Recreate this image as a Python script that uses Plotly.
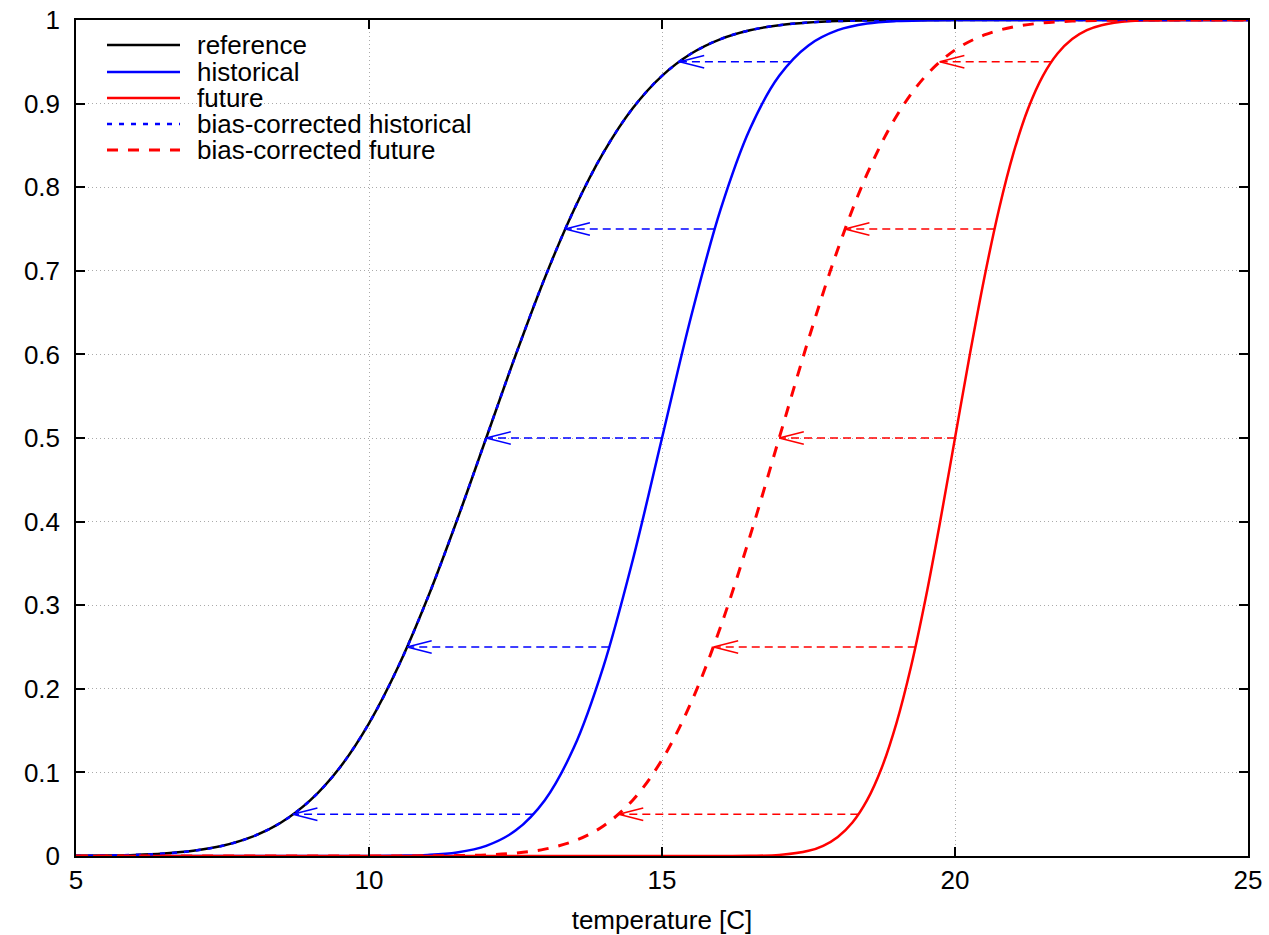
import plotly.graph_objects as go

# ---------------- data ----------------
ref_x = [5, 5.5, 6, 6.5, 7, 7.5, 8, 8.5, 9, 9.5, 10, 10.5, 11, 11.5, 12, 12.5, 13, 13.5,
         14, 14.5, 15, 15.5, 16, 16.5, 17, 17.5, 18, 18.5, 19, 20, 25]
ref_y = [0.0002, 0.0006, 0.0013, 0.0030, 0.0062, 0.0122, 0.0228, 0.0401, 0.0668, 0.1056,
         0.1587, 0.2266, 0.3085, 0.4013, 0.5, 0.5987, 0.6915, 0.7734, 0.8413, 0.8944,
         0.9332, 0.9599, 0.9772, 0.9878, 0.9938, 0.9970, 0.9987, 0.9994, 0.9998, 1.0, 1.0]

hist_x = [5, 10, 10.5, 11, 11.5, 12, 12.5, 13, 13.5, 14, 14.5, 15, 15.5, 16, 16.5, 17,
          17.5, 18, 18.5, 19, 19.5, 20, 25]
hist_y = [0.0, 0.0001, 0.0004, 0.0013, 0.0043, 0.0122, 0.0304, 0.0668, 0.1303, 0.2266,
          0.3538, 0.5, 0.6462, 0.7734, 0.8697, 0.9332, 0.9696, 0.9878, 0.9957, 0.9987,
          0.9996, 0.9999, 1.0]

fut_x = [5, 16, 16.5, 17, 17.5, 17.75, 18, 18.25, 18.5, 18.75, 19, 19.25, 19.5, 19.75, 20,
         20.25, 20.5, 20.75, 21, 21.25, 21.5, 21.75, 22, 22.25, 22.5, 23, 23.5, 24, 25]
fut_y = [0.0, 0.00003, 0.0002, 0.0013, 0.0062, 0.0122, 0.0228, 0.0401, 0.0668, 0.1056,
         0.1587, 0.2266, 0.3085, 0.4013, 0.5, 0.5987, 0.6915, 0.7734, 0.8413, 0.8944,
         0.9332, 0.9599, 0.9772, 0.9878, 0.9938, 0.9987, 0.9998, 1.0, 1.0]

bcfut_x = [5, 11, 11.5, 12, 12.5, 13, 13.5, 14, 14.5, 15, 15.5, 16, 16.5, 17, 17.5, 18,
           18.5, 19, 19.5, 20, 20.5, 21, 21.5, 22, 22.5, 23, 25]
bcfut_y = [0.0, 0.0002, 0.0005, 0.0013, 0.0035, 0.0082, 0.0179, 0.0359, 0.0668, 0.1151,
           0.1841, 0.2743, 0.3821, 0.5, 0.6179, 0.7257, 0.8159, 0.8849, 0.9332, 0.9641,
           0.9821, 0.9918, 0.9965, 0.9987, 0.9995, 0.9998, 1.0]

# quantile-mapping arrows
levels = [0.05, 0.25, 0.5, 0.75, 0.95]
hist_q = [12.8, 14.1, 15.0, 15.9, 17.2]
ref_q = [8.7, 10.65, 12.0, 13.35, 15.3]
fut_q = [18.35, 19.33, 20.0, 20.67, 21.65]
bcfut_q = [14.26, 15.88, 17.0, 18.12, 19.74]

xticks = [5, 10, 15, 20, 25]
yticks = [0, 0.1, 0.2, 0.3, 0.4, 0.5, 0.6, 0.7, 0.8, 0.9, 1]
yticktext = ["0", "0.1", "0.2", "0.3", "0.4", "0.5", "0.6", "0.7", "0.8", "0.9", "1"]

legend_names = ["reference", "historical", "future",
                "bias-corrected historical", "bias-corrected future"]

# ---------------- styles ----------------
BLUE = "#0000ff"
RED = "#ff0000"
FONT = "Liberation Sans"
FS = 26
styles = [
    dict(color="black", width=2.5, dash="solid"),
    dict(color=BLUE, width=2.5, dash="solid"),
    dict(color=RED, width=2.5, dash="solid"),
    dict(color=BLUE, width=2.5, dash="5px,7px"),
    dict(color=RED, width=3, dash="11px,10px"),
]

fig = go.Figure()

series = [(ref_x, ref_y), (hist_x, hist_y), (fut_x, fut_y), (ref_x, ref_y), (bcfut_x, bcfut_y)]
for (sx, sy), st, nm in zip(series, styles, legend_names):
    fig.add_trace(go.Scatter(x=sx, y=sy, mode="lines", name=nm, line=st,
                             line_shape="spline", showlegend=False, hoverinfo="skip"))


def arrows(tails, heads, color):
    lx, ly, hx, hy = [], [], [], []
    dx, dy = 0.42, 0.0075
    for q, t, h in zip(levels, tails, heads):
        lx += [t, h, None]
        ly += [q, q, None]
        hx += [h + dx, h, h + dx, None]
        hy += [q + dy, q, q - dy, None]
    fig.add_trace(go.Scatter(x=lx, y=ly, mode="lines", showlegend=False, hoverinfo="skip",
                             line=dict(color=color, width=1.5, dash="8px,5px")))
    fig.add_trace(go.Scatter(x=hx, y=hy, mode="lines", showlegend=False, hoverinfo="skip",
                             line=dict(color=color, width=1.5)))


arrows(hist_q, ref_q, BLUE)
arrows(fut_q, bcfut_q, RED)

# legend box (opaque, hides grid) and manual legend
W, H = 1172.0, 836.0
fig.add_shape(type="rect", xref="paper", yref="paper", x0=0, x1=(590 - 76) / W,
              y0=(856 - 166) / H, y1=1, fillcolor="white", line=dict(width=0), layer="between")
row_px = [45, 72, 98, 124, 150]
for nm, st, ypx in zip(legend_names, styles, row_px):
    yy = (856 - ypx) / H
    fig.add_shape(type="line", xref="paper", yref="paper", x0=(107 - 76) / W, x1=(180 - 76) / W,
                  y0=yy, y1=yy, line=st)
    fig.add_annotation(xref="paper", yref="paper", x=(196 - 76) / W, y=yy, text=nm,
                       showarrow=False, xanchor="left", yanchor="middle", height=26,
                       valign="middle", borderpad=0,
                       font=dict(family=FONT, size=FS, color="black"))

axis_common = dict(showline=True, linecolor="black", linewidth=1.5, mirror="ticks",
                   ticks="inside", ticklen=9, tickwidth=1.5, tickcolor="black",
                   showgrid=True, gridcolor="#aaaaaa", gridwidth=1, griddash="1px,3px",
                   zeroline=False, automargin=False, ticklabeloverflow="allow",
                   tickfont=dict(family=FONT, size=FS, color="black"))

fig.update_xaxes(range=[5, 25], tickvals=xticks, ticktext=[str(v) for v in xticks],
                 title=dict(text="temperature [C]", font=dict(family=FONT, size=FS, color="black"),
                            standoff=22), **axis_common)
fig.update_yaxes(range=[0, 1], tickvals=yticks, ticktext=yticktext, ticklabelstandoff=9,
                 **axis_common)

fig.update_layout(width=1269, height=935, margin=dict(l=76, r=21, t=20, b=79),
                  plot_bgcolor="white", paper_bgcolor="white",
                  font=dict(family=FONT, color="black"), showlegend=False)

# remove the default page margin so the figure fills the window exactly
fig.write_html("out.html", config={"displayModeBar": False},
               post_script="document.body.style.margin='0';")
